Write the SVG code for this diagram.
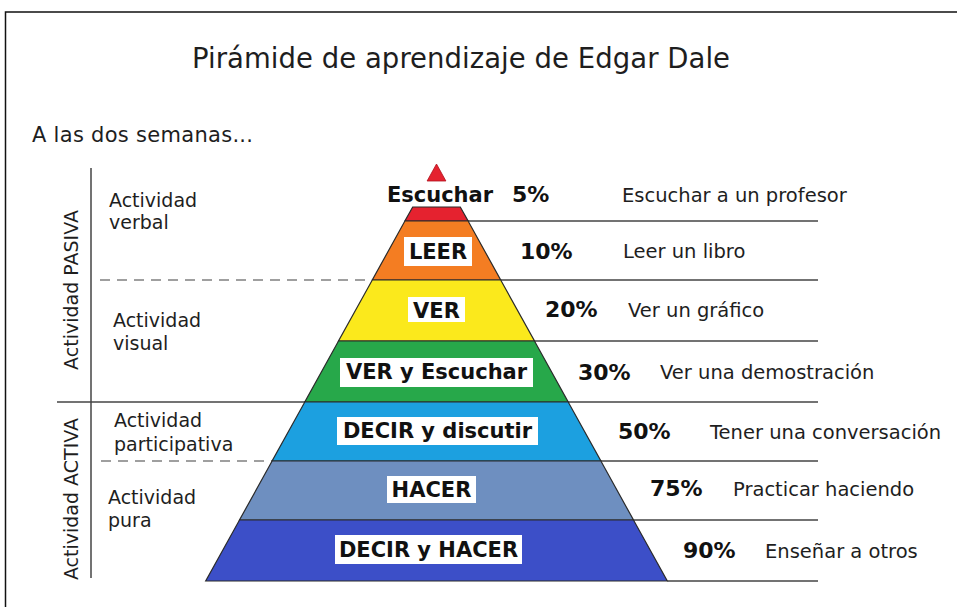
<svg xmlns="http://www.w3.org/2000/svg" width="957" height="607" viewBox="0 0 957 607">
  <style>
    text { font-family: "DejaVu Sans", Verdana, sans-serif; fill: #1e1e1e; }
    .title { font-size: 27.5px; }
    .sub { font-size: 21px; }
    .lbl { font-size: 19px; }
    .desc { font-size: 19.5px; }
    .bold { font-size: 21px; font-weight: bold; fill: #111; }
    .pct { font-size: 22px; font-weight: bold; fill: #111; }
    .layer { stroke: #2a2a2a; stroke-width: 1.2; stroke-linejoin: miter; }
    .box { fill: #ffffff; }
    .rule { stroke: #454545; stroke-width: 1.5; fill: none; }
    .dash { stroke: #808080; stroke-width: 1.5; stroke-dasharray: 10 7; fill: none; }
    .frame { stroke: #111; stroke-width: 1.5; fill: none; }
  </style>
  <rect x="0" y="0" width="957" height="607" fill="#ffffff"/>
  <path class="frame" d="M5.5,607 V12 H957"/>

  <text class="title" x="192" y="68" textLength="538">Pirámide de aprendizaje de Edgar Dale</text>
  <text class="sub" x="32" y="142" textLength="221">A las dos semanas...</text>

  <g id="connectors">
    <line class="rule" x1="91" y1="168" x2="91" y2="578"/>
    <line class="rule" x1="57" y1="402" x2="305" y2="402"/>
    <line class="dash" x1="100" y1="280" x2="372" y2="280"/>
    <line class="dash" x1="101" y1="461" x2="272" y2="461"/>
    <line class="rule" x1="468" y1="221" x2="818" y2="221"/>
    <line class="rule" x1="500.7" y1="280" x2="818" y2="280"/>
    <line class="rule" x1="534.5" y1="341" x2="818" y2="341"/>
    <line class="rule" x1="568.2" y1="402" x2="818" y2="402"/>
    <line class="rule" x1="600.9" y1="461" x2="818" y2="461"/>
    <line class="rule" x1="633.5" y1="520" x2="818" y2="520"/>
    <line class="rule" x1="667.3" y1="581" x2="818" y2="581"/>
  </g>

  <g id="side-labels">
    <text class="lbl" transform="translate(78,290) rotate(-90)" text-anchor="middle">Actividad PASIVA</text>
    <text class="lbl" transform="translate(78,499) rotate(-90)" text-anchor="middle">Actividad ACTIVA</text>
    <text class="lbl" x="109" y="207">Actividad</text>
    <text class="lbl" x="109" y="229">verbal</text>
    <text class="lbl" x="113" y="327">Actividad</text>
    <text class="lbl" x="113" y="350">visual</text>
    <text class="lbl" x="114" y="427">Actividad</text>
    <text class="lbl" x="114" y="451">participativa</text>
    <text class="lbl" x="108" y="504">Actividad</text>
    <text class="lbl" x="108" y="527">pura</text>
  </g>

  <g id="apex">
    <polygon points="436.5,164 427.1,181 445.9,181" fill="#e5222f" stroke="#b0101c" stroke-width="0.8"/>
  </g>

  <g id="layer-escuchar">
    <polygon class="layer" points="412.7,207 460.3,207 468.1,221 404.9,221" fill="#e5222f"/>
    <text class="bold" x="440" y="202" text-anchor="middle">Escuchar</text>
    <text class="pct" x="512" y="202">5%</text>
    <text class="desc" x="622" y="202">Escuchar a un profesor</text>
  </g>

  <g id="layer-leer">
    <polygon class="layer" points="404.9,221 468.1,221 500.7,280 372.3,280" fill="#f47d22"/>
    <rect class="box" x="404" y="237" width="68" height="29"/>
    <text class="bold" x="438" y="259" text-anchor="middle">LEER</text>
    <text class="pct" x="520" y="259">10%</text>
    <text class="desc" x="623" y="258">Leer un libro</text>
  </g>

  <g id="layer-ver">
    <polygon class="layer" points="372.3,280 500.7,280 534.5,341 338.5,341" fill="#fbe91c"/>
    <rect class="box" x="408" y="297" width="57" height="25"/>
    <text class="bold" x="436.5" y="318" text-anchor="middle">VER</text>
    <text class="pct" x="545" y="317">20%</text>
    <text class="desc" x="628" y="317">Ver un gráfico</text>
  </g>

  <g id="layer-ver-escuchar">
    <polygon class="layer" points="338.5,341 534.5,341 568.2,402 304.8,402" fill="#27a84a"/>
    <rect class="box" x="340" y="358" width="193" height="29"/>
    <text class="bold" x="436.5" y="379" text-anchor="middle">VER y Escuchar</text>
    <text class="pct" x="578" y="380">30%</text>
    <text class="desc" x="660" y="379">Ver una demostración</text>
  </g>

  <g id="layer-decir-discutir">
    <polygon class="layer" points="304.8,402 568.2,402 600.9,461 272.1,461" fill="#1ca0e0"/>
    <rect class="box" x="337" y="417" width="201" height="28"/>
    <text class="bold" x="437.5" y="438" text-anchor="middle">DECIR y discutir</text>
    <text class="pct" x="618" y="439">50%</text>
    <text class="desc" x="710" y="439">Tener una conversación</text>
  </g>

  <g id="layer-hacer">
    <polygon class="layer" points="272.1,461 600.9,461 633.5,520 239.5,520" fill="#6e8fc0"/>
    <rect class="box" x="387" y="476" width="89" height="27"/>
    <text class="bold" x="431.5" y="497" text-anchor="middle">HACER</text>
    <text class="pct" x="650" y="496">75%</text>
    <text class="desc" x="733" y="496">Practicar haciendo</text>
  </g>

  <g id="layer-decir-hacer">
    <polygon class="layer" points="239.5,520 633.5,520 667.3,581 205.7,581" fill="#3c4fc8"/>
    <rect class="box" x="335" y="535" width="187" height="29"/>
    <text class="bold" x="428.5" y="557" text-anchor="middle">DECIR y HACER</text>
    <text class="pct" x="683" y="558">90%</text>
    <text class="desc" x="765" y="558">Enseñar a otros</text>
  </g>
</svg>
